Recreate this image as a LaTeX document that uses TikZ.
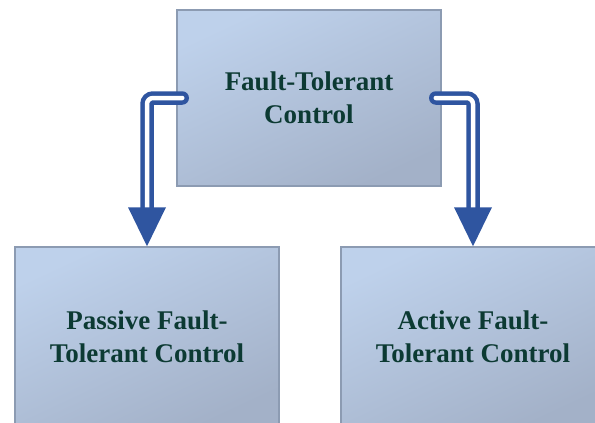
\documentclass[tikz,border=0pt]{standalone}
\usepackage{fontspec}
\setmainfont{Liberation Serif}
\usetikzlibrary{calc}
\definecolor{boxtop}{HTML}{BED1EB}
\definecolor{boxbot}{HTML}{A3B1C8}
\definecolor{boxline}{HTML}{8C9BB2}
\definecolor{txtcol}{HTML}{0C3A33}
\definecolor{arrcol}{HTML}{2F55A0}
\tikzset{
  fbox/.style={draw=boxline, line width=1.5pt, top color=boxtop, bottom color=boxbot,
    shading angle=25, minimum width=264pt, minimum height=176pt, inner sep=0pt,
    align=center, text=txtcol, font=\fontsize{27}{33}\selectfont\bfseries},
  shaft/.style={draw=arrcol, double=white, line width=4.5pt, double distance=4.5pt,
    rounded corners=6pt, line cap=round, shorten >=37pt},
  arrhead/.style={fill=arrcol}
}
\begin{document}
\begin{tikzpicture}[x=1pt,y=-1pt]
\useasboundingbox (0,0) rectangle (595,423);
\clip (0,0) rectangle (595,423);
\node[fbox] (top) at (309,98) {Fault-Tolerant\\Control};
\node[fbox, minimum height=180pt] (pl) at (147,337) {Passive Fault-\\Tolerant Control};
\node[fbox, minimum height=180pt] (pr) at (473,337) {Active Fault-\\Tolerant Control};
\coordinate (sl) at ($(top.west)+(6,0)$);
\coordinate (sr) at ($(top.east)+(-6,0)$);
\draw[shaft] (sl) -| (pl.north);
\draw[shaft] (sr) -| (pr.north);
\fill[arrhead] (pl.north) -- ++(-19,-39) -- ++(38,0) -- cycle;
\fill[arrhead] (pr.north) -- ++(-19,-39) -- ++(38,0) -- cycle;
\end{tikzpicture}
\end{document}
